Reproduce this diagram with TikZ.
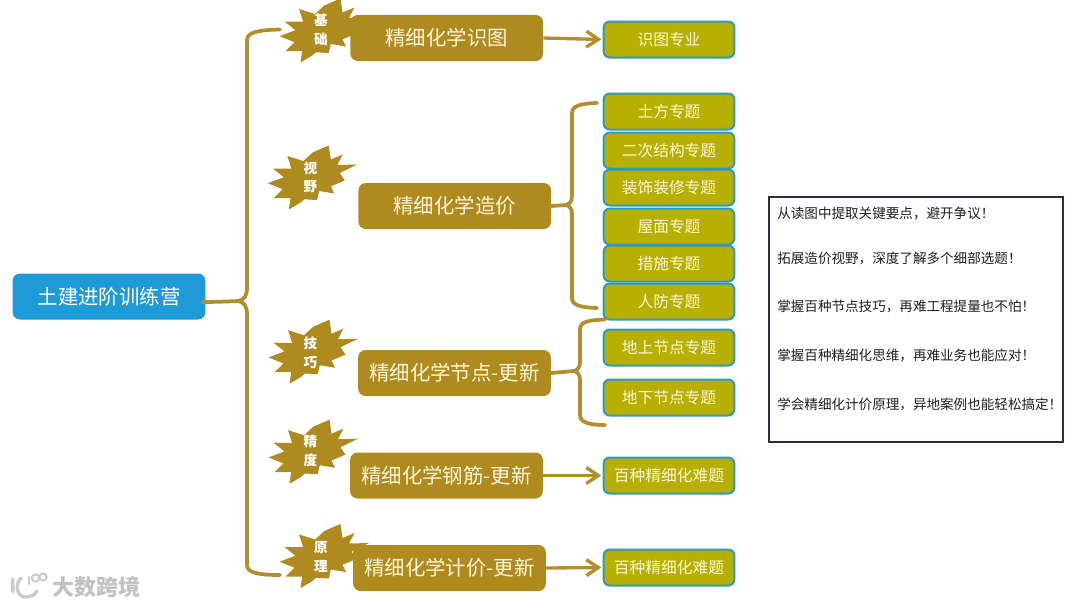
\documentclass[tikz,border=0pt]{standalone}
\usepackage{fontspec}
\setmainfont{Noto Sans CJK SC}
\usetikzlibrary{arrows.meta}
\definecolor{gold}{HTML}{AF8A1E}
\definecolor{linegold}{HTML}{B28F2C}
\definecolor{olive}{HTML}{B8B000}
\definecolor{leafedge}{HTML}{2B9AC9}
\definecolor{rootblue}{HTML}{1E9AD6}
\definecolor{cream}{HTML}{FFF6D8}
\definecolor{navy}{HTML}{2A2A55}
\tikzset{
  boxnode/.style={fill=gold,rounded corners=5.5pt,minimum width=144.5pt,minimum height=34.5pt,inner sep=0pt,text=cream,font=\fontsize{15.3}{18}\selectfont},
  rootnode/.style={boxnode,fill=rootblue,text=white},
  leafnode/.style={fill=olive,draw=leafedge,line width=1.5pt,rounded corners=4.5pt,minimum width=98pt,minimum height=27pt,inner sep=0pt,text=cream,font=\fontsize{11.8}{14}\selectfont},
  burst/.style={fill=gold},
  bursttext/.style={text=white,font=\fontsize{10.2}{14}\selectfont\bfseries,align=center,inner sep=0pt},
  brace/.style={draw=linegold,line width=2.8pt,line cap=round,line join=round},
  arrowline/.style={draw=linegold,line width=2.5pt,shorten >=1pt,-{Straight Barb[length=9pt,width=12pt,line width=2.5pt]}},
  note/.style={anchor=west,inner sep=0pt,text=black!88,font=\fontsize{10.18}{12}\selectfont},
}
\newcommand{\burstshape}[2]{%
  \path[burst,shift={(#1,#2)}] (-22,-21.5) -- (-6,-16.5) -- (3.3,-25) -- (19.5,-32) -- (21.5,-18) -- (33.5,-23) -- (28,-12.5) -- (48,-13) -- (30.5,-4.5) -- (35.5,3) -- (21.5,8.8) -- (25,16) -- (9.8,13.5) -- (7.8,22.5) -- (-5,21.8) -- (-9.3,25.5) -- (-20.5,32) -- (-18.8,20.5) -- (-35.5,20.5) -- (-26.5,11.7) -- (-41.5,5.7) -- (-25.5,-0.3) -- (-36.5,-9) -- (-17.8,-8.8) -- cycle;%
}
\begin{document}
\begin{tikzpicture}[x=0.75pt,y=-0.75pt]
\useasboundingbox (0,0) rectangle (1080,607);
% free ends of the connectors
\coordinate (trunkJ) at (238,301);
\coordinate (topEnd) at (280,29.5);
\coordinate (botEnd) at (280,575);
\coordinate (braceAup) at (597,103);
\coordinate (braceAdn) at (597,308);
\coordinate (braceBup) at (605,319.5);
\coordinate (braceBdn) at (605,425);

% connectors under the bursts
\node[rootnode] (root) at (109,296.5) {土建进阶训练营};
\draw[brace] (root.east) ++(-3,5.5) coordinate (rootE) .. controls (215,302) and (228,301.5) .. (trunkJ);
\draw[brace] (trunkJ) .. controls (244,300) and (247,296) .. (247,288) -- (247,40) .. controls (247,33) and (256,30) .. (topEnd);
\draw[brace] (trunkJ) .. controls (244,302) and (247,306) .. (247,314) -- (247,565) .. controls (247,572) and (256,575) .. (botEnd);

% bursts
\burstshape{321}{30.5}
\burstshape{309.3}{177.5}
\burstshape{310}{351.7}
\burstshape{310}{451.7}
\burstshape{321}{556}
\node[bursttext] (bA) at (321,30) {基\\础};
\node[bursttext] (bB) at (310.5,177.5) {视\\野};
\node[bursttext] (bC) at (310.5,353) {技\\巧};
\node[bursttext] (bD) at (310.5,450.5) {精\\度};
\node[bursttext] (bE) at (321,557) {原\\理};

% main boxes
\node[boxnode] (m1) at (446.75,38) {精细化学识图};
\node[boxnode] (m2) at (454.75,206) {精细化学造价};
\node[boxnode] (m3) at (454.5,373) {精细化学节点-更新};
\node[boxnode] (m4) at (446.5,475.5) {精细化学钢筋-更新};
\node[boxnode] (m5) at (449.5,568) {精细化学计价-更新};

% leaves
\node[leafnode] (l1) at (669,39.5) {识图专业};
\node[leafnode] (l2) at (669,111.5) {土方专题};
\node[leafnode] (l3) at (669,150.5) {二次结构专题};
\node[leafnode] (l4) at (669,187.5) {装饰装修专题};
\node[leafnode] (l5) at (669,226.5) {屋面专题};
\node[leafnode] (l6) at (669,263.5) {措施专题};
\node[leafnode] (l7) at (669,301.5) {人防专题};
\node[leafnode] (l8) at (669,347.5) {地上节点专题};
\node[leafnode] (l9) at (669,397.5) {地下节点专题};
\node[leafnode] (l10) at (669,475.5) {百种精细化难题};
\node[leafnode] (l11) at (669,567.5) {百种精细化难题};

% arrows
\draw[arrowline] (m1.east) -- (l1.west);
\draw[arrowline] (m4.east) -- (l10.west);
\draw[arrowline] (m5.east) -- (l11.west);

% braces
\draw[brace] (m2.east) -- (566,205) .. controls (570,204) and (572,201) .. (572,196) -- (572,113) .. controls (572,106) and (580,103.5) .. (braceAup);
\draw[brace] (566,205) .. controls (570,206) and (572,209) .. (572,214) -- (572,298) .. controls (572,305) and (580,307.5) .. (braceAdn);
\draw[brace] (m3.east) -- (574,371) .. controls (578,370) and (580,367) .. (580,362) -- (580,329) .. controls (580,322) and (588,320) .. (braceBup);
\draw[brace] (574,371) .. controls (578,372) and (580,375) .. (580,380) -- (580,415) .. controls (580,422) and (588,425) .. (braceBdn);

% note panel
\node[draw=navy,line width=1.1pt,minimum width=220.5pt,minimum height=183.5pt,inner sep=0pt] (panel) at (916,319.5) {};
\node[note] (n1) at (777,213) {从读图中提取关键要点，避开争议！};
\node[note] (n2) at (777,258) {拓展造价视野，深度了解多个细部选题！};
\node[note] (n3) at (777,307) {掌握百种节点技巧，再难工程提量也不怕！};
\node[note] (n4) at (777,355) {掌握百种精细化思维，再难业务也能应对！};
\node[note] (n5) at (777,404) {学会精细化计价原理，异地案例也能轻松搞定！};

% watermark
\begin{scope}[draw=black!20,line width=2.6pt,line cap=round]
\draw (12.5,579) -- (13,592);
\draw (21,578) .. controls (15,584) and (16,598) .. (27,597) .. controls (31,596.5) and (35,595) .. (37,591);
\draw[line width=1.6pt] (29,577) -- (29,584);
\draw[line width=1.6pt] (35.5,578) circle (3.6);
\draw[line width=1.6pt] (43,577) circle (3.6);
\end{scope}
\node[text=black!24,font=\fontsize{16.5}{18}\selectfont\bfseries,inner sep=0pt] (wm) at (96.5,587) {大数跨境};
\end{tikzpicture}
\end{document}
